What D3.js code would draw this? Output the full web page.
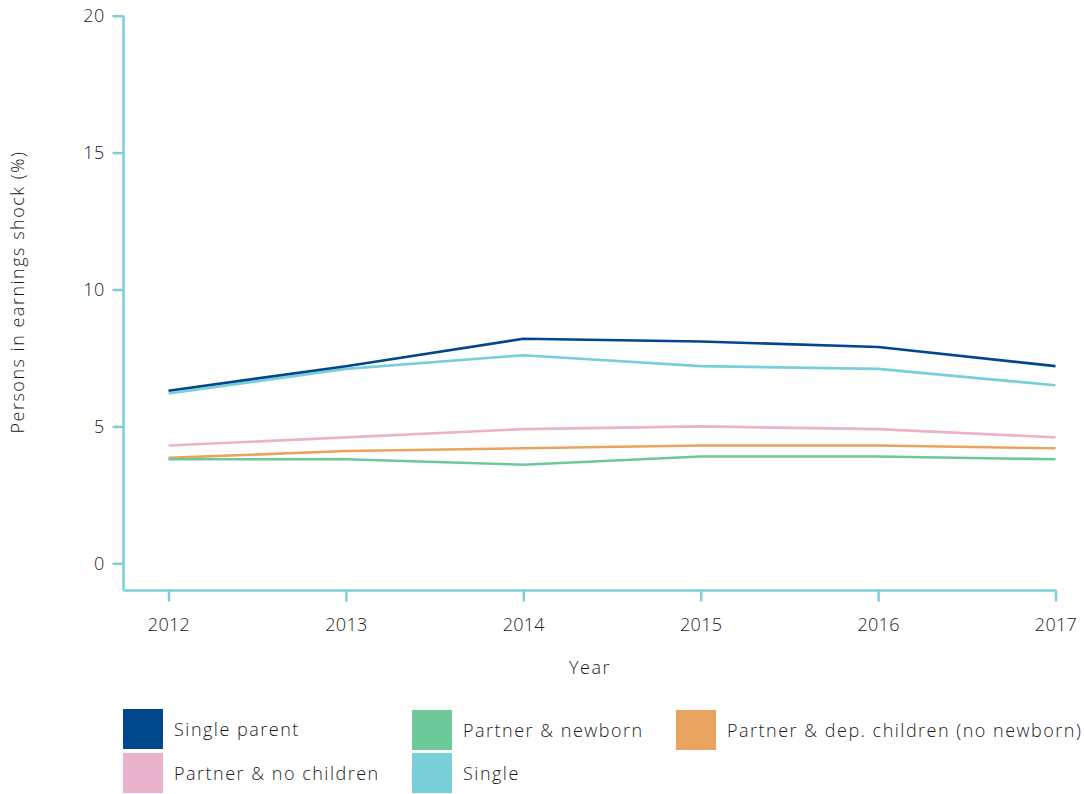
<!DOCTYPE html>
<html><head><meta charset="utf-8">
<script src="https://cdn.jsdelivr.net/npm/d3@7"></script>
<style>
body{margin:0;background:#fff;}
text{font-family:"Open Sans","Noto Sans",sans-serif;fill:#1a1a1a;font-weight:300;letter-spacing:1.5px;}
</style></head>
<body><svg id="c" width="1084" height="794"></svg>
<script>
const years = [2012, 2013, 2014, 2015, 2016, 2017];
const yTicks = [0, 5, 10, 15, 20];
const seriesNames = ["Single parent", "Partner & newborn", "Partner & dep. children (no newborn)", "Partner & no children", "Single"];
const seriesColors = ["#00478b", "#6cc999", "#e8a45e", "#ebb3cb", "#78cfd9"];
const singleParent = [6.3, 7.2, 8.2, 8.1, 7.9, 7.2];
const partnerNewborn = [3.8, 3.8, 3.6, 3.9, 3.9, 3.8];
const partnerDep = [3.85, 4.1, 4.2, 4.3, 4.3, 4.2];
const partnerNoChildren = [4.3, 4.6, 4.9, 5.0, 4.9, 4.6];
const single = [6.2, 7.1, 7.6, 7.2, 7.1, 6.5];
const seriesValues = [singleParent, partnerNewborn, partnerDep, partnerNoChildren, single];
const drawOrder = [3, 2, 1, 4, 0];

const svg = d3.select("#c");
const axisColor = "#7ccfd8";
const x = d3.scalePoint().domain(years).range([168.5, 1055.5]);
const y = d3.scaleLinear().domain([0, 20]).range([563.3, 15.7]);
const axisLeftX = 123.5, axisBottomY = 590.5;

// y axis
const ya = svg.append("g").attr("transform", `translate(${axisLeftX},0)`)
  .call(d3.axisLeft(y).tickValues(yTicks).tickSize(11).tickPadding(8).tickFormat(d3.format("d")));
ya.select(".domain").remove();
ya.append("line").attr("x1",0).attr("x2",0).attr("y1",y(20)).attr("y2",axisBottomY)
  .attr("stroke",axisColor).attr("stroke-width",2.5);
ya.selectAll(".tick line").attr("stroke",axisColor).attr("stroke-width",2.5);
ya.selectAll(".tick text").style("font-size","18px").style("letter-spacing","0.3px").attr("fill","#1a1a1a");

// x axis
const xa = svg.append("g").attr("transform", `translate(0,${axisBottomY})`)
  .call(d3.axisBottom(x).tickSize(11).tickPadding(17).tickFormat(d3.format("d")));
xa.select(".domain").remove();
xa.append("line").attr("x1",axisLeftX).attr("x2",x(2017)+1).attr("y1",0).attr("y2",0)
  .attr("stroke",axisColor).attr("stroke-width",2.5);
xa.selectAll(".tick line").attr("stroke",axisColor).attr("stroke-width",2.5);
xa.selectAll(".tick text").style("font-size","18px").style("letter-spacing","0.3px").attr("fill","#1a1a1a");

// labels
svg.append("text").attr("x",590).attr("y",674).attr("text-anchor","middle").style("font-size","18px").text("Year");
svg.append("text").attr("transform","translate(24,292) rotate(-90)").attr("text-anchor","middle")
  .style("font-size","18px").text("Persons in earnings shock (%)");

// lines
const line = d3.line().x((d,i)=>x(years[i])).y(d=>y(d));
drawOrder.forEach(k=>{
  svg.append("path").datum(seriesValues[k]).attr("d",line).attr("fill","none")
    .attr("stroke",seriesColors[k]).attr("stroke-width",2.6).attr("stroke-linejoin","round");
});

// legend
const legendPos = [[123,709],[412,710],[676,710],[123,753],[412,753]];
seriesNames.forEach((n,i)=>{
  const [lx,ly] = legendPos[i];
  svg.append("rect").attr("x",lx).attr("y",ly).attr("width",40).attr("height",40).attr("fill",seriesColors[i]);
  svg.append("text").attr("x",lx+51).attr("y",ly+27).style("font-size","18px").attr("fill","#333").text(n);
});
</script></body></html>
